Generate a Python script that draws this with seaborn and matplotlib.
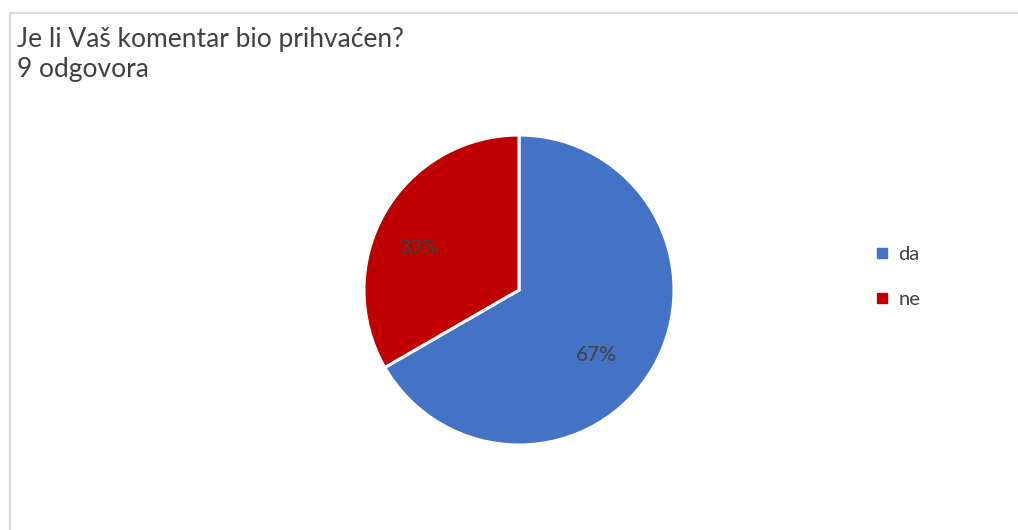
import matplotlib
matplotlib.use("Agg")
import matplotlib.pyplot as plt
from matplotlib.lines import Line2D
import seaborn as sns

# data
labels = ["da", "ne"]
counts = [6, 3]
title = "Je li Vaš komentar bio prihvaćen?"
subtitle = "9 odgovora"

sns.set_theme(style="white")
plt.rcParams['font.family'] = ['Lato', 'DejaVu Sans']
colors = sns.color_palette(["#4472C4", "#C00000"])
text_color = "#404040"

W, H = 1018, 530
fig = plt.figure(figsize=(W / 100, H / 100), dpi=100)

# pie axes: centre (519, 290) px, radius 155 px
cx, cy, r = 519, 290, 155
ax = fig.add_axes([(cx - r) / W, 1 - (cy + r) / H, 2 * r / W, 2 * r / H])
wedges, _ = ax.pie(counts, colors=colors, startangle=90, counterclock=False,
                   radius=1, wedgeprops=dict(edgecolor="white", linewidth=2.2))
ax.set_xlim(-1, 1)
ax.set_ylim(-1, 1)
ax.set_aspect("equal")
ax.axis("off")

# percentage labels (placed where the original puts them)
total = sum(counts)
label_pos = [(0.50, -0.42), (-0.65, 0.27)]
for c, (lx, ly) in zip(counts, label_pos):
    ax.text(lx, ly, f"{c / total:.0%}", ha="center", va="center",
            fontsize=15, color=text_color)

# title
fig.text(17 / W, 1 - 47 / H, title, fontsize=19, color=text_color, va="baseline")
fig.text(17 / W, 1 - 77 / H, subtitle, fontsize=19, color=text_color, va="baseline")

# legend
handles = [Line2D([], [], marker="s", linestyle="none", markersize=6.5,
                  markerfacecolor=col, markeredgecolor=col) for col in colors]
fig.legend(handles, labels, loc="center left",
           bbox_to_anchor=(868 / W, 1 - 277 / H), frameon=False,
           fontsize=14.5, labelcolor=text_color, handlelength=0.6,
           handletextpad=0.5, labelspacing=1.35, borderaxespad=0)

# frame edges (screenshot crop)
border = "#D9D9D9"
fig.add_artist(Line2D([9.5 / W, 1], [1 - 12.5 / H, 1 - 12.5 / H],
                      transform=fig.transFigure, color=border, linewidth=1.5))
fig.add_artist(Line2D([9.5 / W, 9.5 / W], [0, 1 - 12.5 / H],
                      transform=fig.transFigure, color=border, linewidth=1.5))

fig.savefig("out.png", dpi=100, facecolor="white")
